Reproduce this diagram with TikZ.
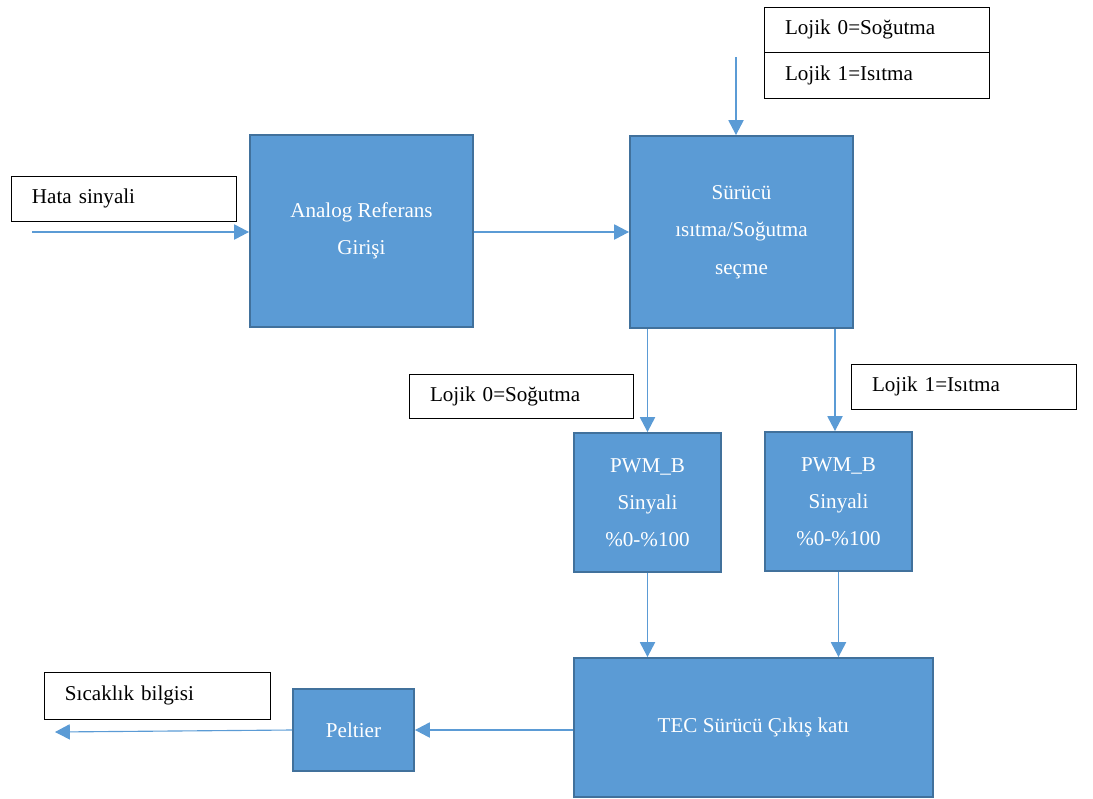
\documentclass[tikz,border=0pt]{standalone}
\usepackage{fontspec}
\setmainfont{Liberation Serif}
\usetikzlibrary{arrows.meta}

\definecolor{blockfill}{HTML}{5B9BD5}
\definecolor{blockline}{HTML}{41719C}

\begin{document}
\begin{tikzpicture}[x=0.025cm,y=-0.025cm,
    block/.style 2 args={rectangle,draw=blockline,fill=blockfill,line width=1.4pt,
        minimum width=#1*0.025*1cm,minimum height=#2*0.025*1cm,inner sep=0,
        text=white,align=center,font=\fontsize{15}{26.5}\selectfont},
    labelbox/.style 2 args={rectangle,draw=black,line width=0.7pt,
        text width=(#1-42)*0.025*1cm,minimum height=#2*0.025*1cm,
        inner xsep=21*0.025*1cm,inner ysep=0,align=left,font=\fontsize{15}{17}\selectfont},
    arr/.style={draw=blockfill,line width=0.8pt,-{Triangle[length=0.37cm,width=0.38cm]}}]
    \useasboundingbox (0,0) rectangle (1093,798);
    % main blocks
    \node[block={223}{192}] (analog) at (361.5,231) {Analog Referans\\Girişi};
    \node[block={223}{192}] (surucu) at (741.5,232) {Sürücü\\ısıtma/Soğutma\\seçme};
    \node[block={147}{139}] (pwmA) at (647.5,502.5) {PWM\_B\\Sinyali\\\%0-\%100};
    \node[block={147}{139}] (pwmB) at (838.5,501.5) {PWM\_B\\Sinyali\\\%0-\%100};
    \node[block={359}{139}] (tec) at (753.5,727.5) {TEC Sürücü Çıkış katı};
    \node[block={121}{82}] (peltier) at (353.5,730) {Peltier};
    % text boxes
    \node[labelbox={225}{45}] (hata) at (123.5,198.5) {Hata sinyali};
    \node[labelbox={225}{45}] (logicA) at (876.5,29.5) {Lojik 0=Soğutma};
    \node[labelbox={225}{46}] (logicB) at (876.5,75) {Lojik 1=Isıtma};
    \node[labelbox={224}{44}] (sogutma) at (521,396) {Lojik 0=Soğutma};
    \node[labelbox={225}{45}] (isitma) at (963.5,386.5) {Lojik 1=Isıtma};
    \node[labelbox={226}{47}] (sicaklik) at (157,695.5) {Sıcaklık bilgisi};
    % free ends
    \coordinate (hataend) at (32,232);
    \coordinate (logicend) at (736,57);
    \coordinate (sicakend) at (55,732);
    % connectors
    \draw[arr] (hataend) -- (hataend -| analog.west);
    \draw[arr] (analog.east |- hataend) -- (surucu.west |- hataend);
    \draw[arr] (logicend) -- (logicend |- surucu.north);
    \draw[arr] (pwmA.north |- surucu.south) -- (pwmA.north);
    \draw[arr] ([xshift=-3.5*0.025cm]pwmB.north |- surucu.south) -- ([xshift=-3.5*0.025cm]pwmB.north);
    \draw[arr] (pwmA.south) -- (pwmA.south |- tec.north);
    \draw[arr] (pwmB.south) -- (pwmB.south |- tec.north);
    \draw[arr] (tec.west |- peltier.east) -- (peltier.east);
    \draw[arr] (peltier.west) -- (sicakend);
\end{tikzpicture}
\end{document}
